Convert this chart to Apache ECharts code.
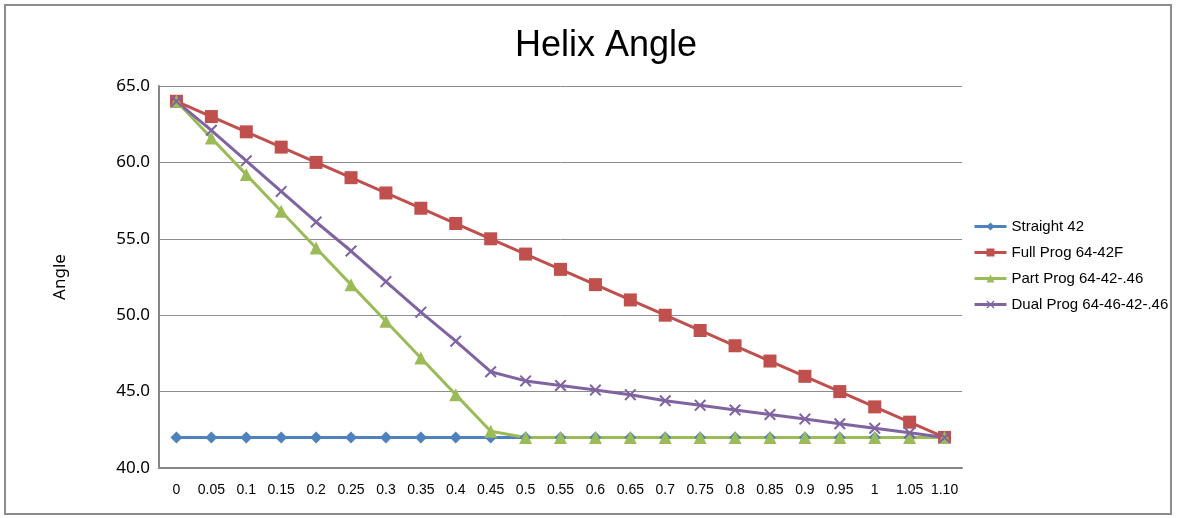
<!DOCTYPE html>
<html><head><meta charset="utf-8">
<script src="https://cdn.jsdelivr.net/npm/echarts@6/dist/echarts.min.js"></script>
<style>html,body{margin:0;padding:0;background:#fff}#c{width:1178px;height:518px}
#frame{position:absolute;left:4px;top:4px;width:1168px;height:511px;border:2px solid #8c8c8c;box-sizing:border-box;pointer-events:none}</style>
</head><body><div id="c"></div><div id="frame"></div>
<script>
const categories = ['0','0.05','0.1','0.15','0.2','0.25','0.3','0.35','0.4','0.45','0.5','0.55','0.6','0.65','0.7','0.75','0.8','0.85','0.9','0.95','1','1.05','1.10'];
const straight42 = [42,42,42,42,42,42,42,42,42,42,42,42,42,42,42,42,42,42,42,42,42,42,42];
const fullProg = [64,63,62,61,60,59,58,57,56,55,54,53,52,51,50,49,48,47,46,45,44,43,42];
const partProg = [64,61.6,59.2,56.8,54.4,52.0,49.6,47.2,44.8,42.4,42,42,42,42,42,42,42,42,42,42,42,42,42];
const dualProg = [64,62.1,60.1,58.1,56.1,54.2,52.2,50.2,48.3,46.3,45.7,45.4,45.1,44.8,44.4,44.1,43.8,43.5,43.2,42.9,42.6,42.3,42];
const seriesNames = ['Straight 42','Full Prog 64-42F','Part Prog 64-42-.46','Dual Prog 64-46-42-.46'];
const colors = ['#4F81BD','#C0504D','#9BBB59','#8064A2'];
const xSym = 'path://M0,1.2L1.2,0L5,3.8L8.8,0L10,1.2L6.2,5L10,8.8L8.8,10L5,6.2L1.2,10L0,8.8L3.8,5Z';

const chart = echarts.init(document.getElementById('c'));
const mk = (name, data, color, symbol, size) => ({
  name, type:'line', data, symbol, symbolSize:size,
  lineStyle:{color, width:3}, itemStyle:{color}, z: 2
});
chart.setOption({
  animation:false,
  color: colors,
  title:{text:'Helix Angle', left:601, textAlign:'center', top:23,
    textStyle:{fontFamily:'Liberation Sans', fontSize:36, fontWeight:'normal', color:'#000'}},
  grid:{left:159, right:216, top:86, bottom:50},
  legend:{orient:'vertical', left:968, top:214, itemWidth:32, itemHeight:10, itemGap:11,
    lineStyle:{width:3},
    textStyle:{fontFamily:'Liberation Sans', fontSize:15, color:'#000'},
    data: seriesNames},
  xAxis:{type:'category', data:categories, boundaryGap:true,
    axisLine:{lineStyle:{color:'#868686', width:2}}, axisTick:{show:false},
    axisLabel:{color:'#000', fontFamily:'Liberation Sans', fontSize:14, margin:15, interval:0}},
  yAxis:{type:'value', min:40, max:65, interval:5, name:'Angle', nameLocation:'middle', nameGap:90,
    nameTextStyle:{fontFamily:'Noto Sans', fontSize:17, color:'#000'},
    axisLine:{show:true, lineStyle:{color:'#868686', width:2}}, axisTick:{show:false},
    splitLine:{lineStyle:{color:'#8c8c8c', width:1}},
    axisLabel:{color:'#000', fontFamily:'Noto Sans', fontSize:17, margin:9, formatter:v=>v.toFixed(1)}},
  series:[
    mk(seriesNames[0], straight42, colors[0], 'diamond', 12),
    mk(seriesNames[1], fullProg, colors[1], 'rect', 13),
    mk(seriesNames[2], partProg, colors[2], 'triangle', 13),
    mk(seriesNames[3], dualProg, colors[3], xSym, 12)
  ]
});
</script></body></html>
